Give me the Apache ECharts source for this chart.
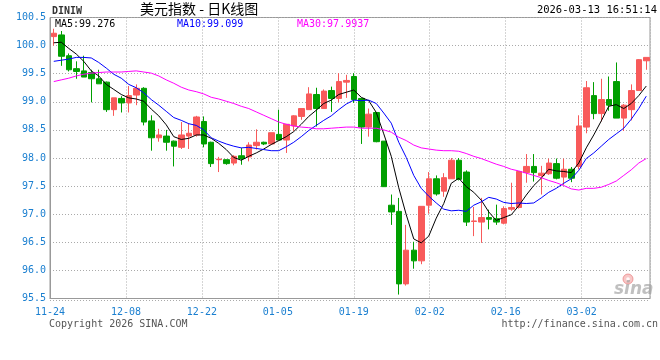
<!DOCTYPE html>
<html><head><meta charset="utf-8">
<script src="https://cdn.jsdelivr.net/npm/echarts@6/dist/echarts.min.js"></script>
<style>html,body{margin:0;padding:0;background:#fff}#c{width:660px;height:360px}</style>
</head><body><div id="c"></div>
<script>
const dates = ['2025-11-24','2025-11-25','2025-11-26','2025-11-27','2025-11-28',
'2025-12-01','2025-12-02','2025-12-03','2025-12-04','2025-12-05','2025-12-08','2025-12-09','2025-12-10','2025-12-11','2025-12-12',
'2025-12-15','2025-12-16','2025-12-17','2025-12-18','2025-12-19','2025-12-22','2025-12-23','2025-12-24','2025-12-25','2025-12-26',
'2025-12-29','2025-12-30','2025-12-31','2026-01-01','2026-01-02','2026-01-05','2026-01-06','2026-01-07','2026-01-08','2026-01-09',
'2026-01-12','2026-01-13','2026-01-14','2026-01-15','2026-01-16','2026-01-19','2026-01-20','2026-01-21','2026-01-22','2026-01-23',
'2026-01-26','2026-01-27','2026-01-28','2026-01-29','2026-01-30','2026-02-02','2026-02-03','2026-02-04','2026-02-05','2026-02-06',
'2026-02-09','2026-02-10','2026-02-11','2026-02-12','2026-02-13','2026-02-16','2026-02-17','2026-02-18','2026-02-19','2026-02-20',
'2026-02-23','2026-02-24','2026-02-25','2026-02-26','2026-02-27','2026-03-02','2026-03-03','2026-03-04','2026-03-05','2026-03-06',
'2026-03-09','2026-03-10','2026-03-11','2026-03-12','2026-03-13'];

const opens = [100.16,100.19,99.82,99.59,99.55,99.52,99.41,99.35,98.86,99.06,
98.98,99.12,99.24,98.66,98.36,98.39,98.30,98.19,98.39,98.41,
98.65,98.28,97.97,97.97,97.91,98.04,98.02,98.22,98.28,98.25,
98.42,98.32,98.57,98.74,98.86,99.13,98.88,99.20,99.06,99.35,
99.45,99.06,98.55,98.81,98.30,97.16,97.05,95.76,96.36,96.17,
97.16,97.63,97.41,97.63,97.96,97.75,96.87,96.86,96.94,96.92,
96.84,97.09,97.12,97.74,97.85,97.69,97.72,97.90,97.66,97.80,
97.85,98.55,99.11,98.79,99.04,99.36,98.71,98.86,99.20,99.73];
const closes = [100.22,99.81,99.57,99.54,99.44,99.41,99.32,98.86,99.07,98.98,
99.11,99.24,98.64,98.36,98.41,98.28,98.21,98.41,98.44,98.73,
98.25,97.90,97.98,97.90,98.03,97.99,98.23,98.28,98.25,98.45,
98.32,98.60,98.75,98.88,99.14,98.88,99.19,99.06,99.36,99.38,
99.04,98.55,98.78,98.29,97.49,97.04,95.76,96.36,96.17,97.14,
97.63,97.36,97.65,97.96,97.62,96.86,96.88,96.94,96.91,96.86,
97.10,97.12,97.76,97.85,97.74,97.73,97.91,97.64,97.80,97.64,
98.57,99.25,98.79,99.04,98.94,98.71,98.94,99.20,99.75,99.79];
const lows = [100.00,99.64,99.54,99.41,99.44,98.99,99.32,98.82,98.75,98.81,
98.81,98.94,98.58,98.13,98.29,98.13,97.85,98.16,98.16,98.38,
98.19,97.84,97.75,97.88,97.87,97.88,97.94,98.15,98.23,98.24,
98.32,98.09,98.48,98.68,98.86,98.56,98.88,98.82,98.99,99.07,
98.98,98.25,98.38,98.28,97.49,96.81,95.57,95.73,96.03,96.11,
97.01,97.33,97.31,97.63,97.60,96.79,96.61,96.49,96.73,96.81,
96.82,97.06,97.10,97.56,97.58,97.35,97.70,97.62,97.52,97.57,
97.80,98.44,98.69,98.65,98.84,98.71,98.48,98.67,99.20,99.57];
const highs = [100.30,100.26,99.86,99.72,99.82,99.57,99.57,99.36,99.07,99.10,
99.28,99.31,99.26,98.76,98.52,98.50,98.31,98.64,98.62,98.75,
98.74,98.29,98.02,97.97,98.05,98.18,98.28,98.51,98.29,98.45,
98.86,98.60,98.76,98.88,99.26,99.25,99.22,99.27,99.51,99.48,
99.51,99.06,98.88,98.81,98.30,97.35,97.29,96.81,96.51,97.14,
97.75,97.69,97.73,98.00,98.00,97.78,97.13,97.29,97.08,97.17,
97.14,97.56,97.76,98.07,98.07,97.86,97.99,97.99,97.99,97.84,
98.76,99.37,99.35,99.41,99.45,99.70,98.96,99.31,99.76,99.79];

const ma5 = [100.05,100.06,99.95,99.85,99.72,99.55,99.46,99.31,99.22,99.13,
99.07,99.05,99.01,98.87,98.75,98.59,98.38,98.33,98.35,98.41,
98.41,98.35,98.26,98.15,98.01,97.96,98.03,98.09,98.16,98.24,
98.31,98.38,98.47,98.60,98.74,98.85,98.97,99.03,99.13,99.17,
99.21,99.08,99.02,98.81,98.43,98.03,97.47,96.99,96.56,96.49,
96.61,96.93,97.19,97.55,97.64,97.49,97.39,97.25,97.04,96.89,
96.94,96.99,97.15,97.34,97.51,97.64,97.80,97.77,97.76,97.74,
97.91,98.18,98.41,98.66,98.92,98.95,98.88,98.97,99.11,99.28];
const ma10 = [99.72,99.74,99.76,99.79,99.79,99.78,99.70,99.60,99.49,99.42,
99.31,99.25,99.16,99.04,98.94,98.83,98.72,98.67,98.61,98.58,
98.50,98.36,98.30,98.25,98.21,98.18,98.19,98.17,98.15,98.13,
98.13,98.20,98.28,98.38,98.49,98.58,98.67,98.75,98.86,98.96,
99.03,99.02,99.03,98.97,98.80,98.62,98.28,98.01,97.69,97.46,
97.32,97.20,97.09,97.06,97.07,97.05,97.16,97.22,97.30,97.27,
97.21,97.19,97.20,97.19,97.20,97.29,97.39,97.46,97.55,97.63,
97.78,97.99,98.09,98.21,98.33,98.43,98.53,98.69,98.88,99.10];
const ma30 = [99.36,99.39,99.42,99.46,99.49,99.51,99.52,99.53,99.53,99.53,
99.54,99.55,99.53,99.51,99.46,99.39,99.33,99.26,99.21,99.18,
99.14,99.08,99.05,99.01,98.97,98.92,98.88,98.82,98.76,98.70,
98.64,98.60,98.57,98.55,98.54,98.52,98.52,98.53,98.54,98.55,
98.55,98.53,98.53,98.53,98.50,98.46,98.37,98.31,98.23,98.18,
98.16,98.14,98.13,98.13,98.12,98.08,98.03,97.99,97.94,97.89,
97.85,97.80,97.77,97.73,97.69,97.65,97.60,97.56,97.51,97.45,
97.43,97.46,97.46,97.48,97.53,97.59,97.69,97.79,97.91,97.99];

const maLabels = ['MA5:99.276', 'MA10:99.099', 'MA30:97.9937'];
const maColors = ['#000000', '#0000ff', '#ff00ff'];

const UP = '#f85a5a', DOWN = '#009f00', BLUE = '#1a7fd0';
const MONO = '"DejaVu Sans Mono", "Liberation Mono", monospace';

const candles = dates.map((d, i) => [opens[i], closes[i], lows[i], highs[i]]);

const chart = echarts.init(document.getElementById('c'), null, {renderer: 'canvas'});
chart.setOption({
  animation: false,
  backgroundColor: '#fff',
  grid: {left: 50, right: 10, top: 17.5, bottom: 61.5, show: true, borderColor: '#999', borderWidth: 1, backgroundColor: 'transparent'},
  xAxis: [
    {type: 'category', data: dates, boundaryGap: true, show: false},
    {type: 'value', min: 0, max: dates.length - 1, interval: 10, position: 'bottom',
     axisLine: {show: true, lineStyle: {color: '#999'}}, axisTick: {show: false},
     splitLine: {show: true, lineStyle: {color: '#aaa', type: [1, 2], width: 1}},
     axisLabel: {color: BLUE, fontFamily: MONO, fontSize: 10, margin: 9, showMaxLabel: false,
       formatter: v => dates[Math.round(v)] ? dates[Math.round(v)].slice(5) : ''}}
  ],
  yAxis: {type: 'value', min: 95.5, max: 100.5, interval: 0.5, position: 'left',
    axisLine: {show: true, lineStyle: {color: '#999'}}, axisTick: {show: false},
    splitLine: {show: true, lineStyle: {color: '#aaa', type: [1, 2], width: 1}},
    axisLabel: {color: BLUE, fontFamily: MONO, fontSize: 10, margin: 4, formatter: v => v.toFixed(1)}},
  series: [
    {type: 'candlestick', xAxisIndex: 0, data: candles, barWidth: 6,
     itemStyle: {color: UP, color0: DOWN, borderColor: UP, borderColor0: DOWN, borderWidth: 1}},
    {type: 'line', xAxisIndex: 0, data: ma5, symbol: 'none', lineStyle: {color: maColors[0], width: 1}},
    {type: 'line', xAxisIndex: 0, data: ma10, symbol: 'none', lineStyle: {color: maColors[1], width: 1}},
    {type: 'line', xAxisIndex: 0, data: ma30, symbol: 'none', lineStyle: {color: maColors[2], width: 1}}
  ],
  graphic: [
    {type: 'text', left: 52, top: 6, style: {text: 'DINIW', font: 'bold 10px ' + MONO, fill: '#333'}},
    {type: 'text', left: 140, top: 2, style: {text: '美元指数 - 日K线图', font: '14px "Noto Sans CJK SC"', fill: '#000'}},
    {type: 'text', right: 3, top: 5, style: {text: '2026-03-13 16:51:14', font: '10.5px ' + MONO, fill: '#000'}},
    {type: 'text', left: 55, top: 19, style: {text: maLabels[0], font: '10px ' + MONO, fill: maColors[0]}},
    {type: 'text', left: 177, top: 19, style: {text: maLabels[1], font: '10px ' + MONO, fill: maColors[1]}},
    {type: 'text', left: 297, top: 19, style: {text: maLabels[2], font: '10px ' + MONO, fill: maColors[2]}},
    {type: 'text', left: 49, top: 319, style: {text: 'Copyright 2026 SINA.COM', font: '10px ' + MONO, fill: '#555'}},
    {type: 'text', right: 2, top: 319, style: {text: 'http://finance.sina.com.cn', font: '10px ' + MONO, fill: '#555'}},
    {type: 'line', shape: {x1: 50, y1: 300.5, x2: 650, y2: 300.5}, style: {stroke: '#aaa', lineDash: [1, 2], lineWidth: 1}},
    {type: 'circle', shape: {cx: 628, cy: 279, r: 5}, style: {fill: 'rgba(240,130,130,0.45)', stroke: 'rgba(230,110,110,0.6)', lineWidth: 1}},
    {type: 'circle', shape: {cx: 628, cy: 279, r: 1.8}, style: {fill: 'rgba(255,255,255,0.9)'}},
    {type: 'text', left: 614, top: 281, style: {text: 'sina', font: 'italic bold 17px "DejaVu Sans"', fill: 'rgba(150,150,150,0.6)'}}
  ]
});
</script></body></html>
